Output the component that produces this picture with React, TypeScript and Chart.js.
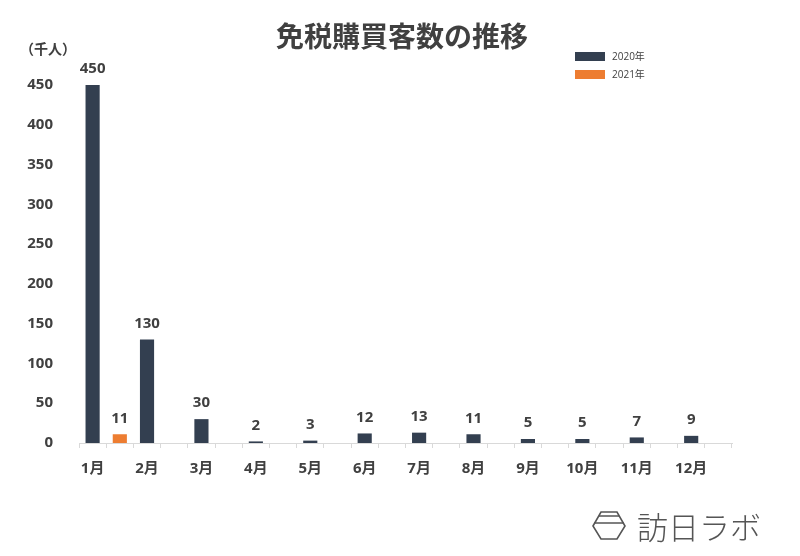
import React, { useEffect, useRef } from "react";
import { Chart, registerables } from "chart.js";

Chart.register(...registerables);

const TITLE = "免税購買客数の推移";
const UNIT = "（千人）";
const months = ["1月", "2月", "3月", "4月", "5月", "6月", "7月", "8月", "9月", "10月", "11月", "12月"];
const values2020 = [450, 130, 30, 2, 3, 12, 13, 11, 5, 5, 7, 9];
const values2021 = [11];
const seriesNames = ["2020年", "2021年"];
const seriesColors = ["#333F50", "#ED7D31"];
const yMax = 450;
const yStep = 50;
const LOGO = "訪日ラボ";

const FONT = "'Open Sans', 'Noto Sans CJK JP', sans-serif";
const TEXT = "#404040";

// 2 slots per month: first slot = 2020, second slot = 2021
const slotLabels: string[] = [];
const slot2020: (number | null)[] = [];
const slot2021: (number | null)[] = [];
months.forEach((m, i) => {
  slotLabels.push(m, "");
  slot2020.push(values2020[i] ?? null, null);
  slot2021.push(null, values2021[i] ?? null);
});

const decorPlugin = {
  id: "decor",
  afterDatasetsDraw(chart: any) {
    const ctx = chart.ctx;
    ctx.save();
    // data labels
    ctx.fillStyle = TEXT;
    ctx.font = `bold 15px ${FONT}`;
    ctx.textAlign = "center";
    ctx.textBaseline = "middle";
    chart.data.datasets.forEach((ds: any, di: number) => {
      const meta = chart.getDatasetMeta(di);
      meta.data.forEach((el: any, i: number) => {
        const v = ds.data[i];
        if (v === null || v === undefined) return;
        ctx.fillText(String(v), el.x, el.y - 16);
      });
    });
    // title
    ctx.font = `bold 28px ${FONT}`;
    ctx.fillStyle = "#404040";
    ctx.fillText(TITLE, 402, 39);
    // unit
    ctx.font = `bold 14px ${FONT}`;
    ctx.textAlign = "left";
    ctx.fillText(UNIT, 20, 50);
    // legend
    ctx.font = `10px ${FONT}`;
    seriesNames.forEach((n, i) => {
      const y = 56 + i * 18;
      ctx.fillStyle = seriesColors[i];
      ctx.fillRect(575, y - 4, 30, 9);
      ctx.fillStyle = TEXT;
      ctx.fillText(n, 612, y + 1);
    });
    // logo icon
    ctx.strokeStyle = "#555";
    ctx.lineWidth = 1.6;
    ctx.beginPath();
    ctx.moveTo(593, 526);
    ctx.lineTo(601, 512);
    ctx.lineTo(617, 512);
    ctx.lineTo(625, 526);
    ctx.lineTo(617, 539);
    ctx.lineTo(601, 539);
    ctx.closePath();
    ctx.stroke();
    ctx.beginPath();
    ctx.moveTo(599, 516);
    ctx.lineTo(619, 516);
    ctx.moveTo(594, 523);
    ctx.lineTo(624, 523);
    ctx.stroke();
    // logo text
    ctx.font = `300 31px 'Noto Sans CJK JP', sans-serif`;
    ctx.fillStyle = "#555";
    ctx.textAlign = "left";
    ctx.fillText(LOGO, 637, 527);
    ctx.restore();
  },
};

export default function App() {
  const ref = useRef<HTMLCanvasElement>(null);
  useEffect(() => {
    if (!ref.current) return;
    const chart = new Chart(ref.current, {
      type: "bar",
      data: {
        labels: slotLabels,
        datasets: [
          {
            label: seriesNames[0],
            data: slot2020,
            backgroundColor: seriesColors[0],
            grouped: false,
            barPercentage: 0.52,
            categoryPercentage: 1,
          } as any,
          {
            label: seriesNames[1],
            data: slot2021,
            backgroundColor: seriesColors[1],
            grouped: false,
            barPercentage: 0.52,
            categoryPercentage: 1,
          } as any,
        ],
      },
      options: {
        responsive: false,
        animation: false,
        layout: { padding: { top: 85, right: 68, left: 0, bottom: 0 } },
        plugins: {
          legend: { display: false },
          title: { display: false },
          tooltip: { enabled: false },
        },
        scales: {
          x: {
            offset: true,
            grid: {
              display: true,
              drawOnChartArea: false,
              drawTicks: true,
              tickLength: 5,
              color: "#d9d9d9",
              offset: true,
            },
            border: { display: true, color: "#d9d9d9" },
            ticks: {
              autoSkip: false,
              maxRotation: 0,
              minRotation: 0,
              padding: 12,
              color: TEXT,
              font: { family: FONT, size: 15, weight: "bold" },
            },
            afterFit(scale: any) {
              scale.height = 113;
            },
          },
          y: {
            min: 0,
            max: yMax,
            grid: { display: false },
            border: { display: false },
            ticks: {
              stepSize: yStep,
              padding: 18,
              color: TEXT,
              font: { family: FONT, size: 15, weight: "bold" },
            },
            afterFit(scale: any) {
              scale.width = 79;
            },
          },
        },
      },
      plugins: [decorPlugin],
    });
    return () => chart.destroy();
  }, []);
  return (
    <div style={{ position: "fixed", left: 0, top: 0, width: 800, height: 556, background: "#fff" }}>
      <canvas ref={ref} width={800} height={556} style={{ width: 800, height: 556 }} />
    </div>
  );
}
